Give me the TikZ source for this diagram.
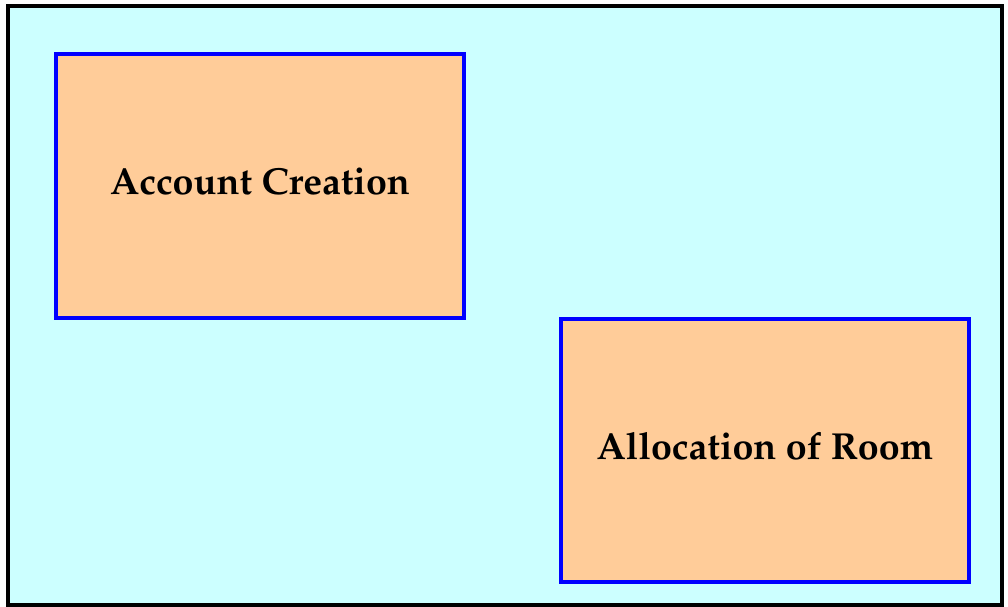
\documentclass[tikz,border=0pt]{standalone}
\usepackage[T1]{fontenc}
\usepackage{mathpazo}
\usepackage{xcolor}
\usetikzlibrary{positioning}

\definecolor{panelcyan}{RGB}{204,255,255}
\definecolor{boxorange}{RGB}{255,204,153}
\definecolor{boxblue}{RGB}{0,0,255}

\tikzset{
    modulebox/.style={draw=boxblue, line width=1.1pt, fill=boxorange,
        minimum width=4.08cm, minimum height=2.64cm, inner sep=0pt,
        text depth=0.1cm,
        font=\fontsize{10.7}{13}\selectfont\bfseries}
}

\begin{document}
\begin{tikzpicture}[x=0.01cm, y=-0.01cm]
    \useasboundingbox (0,0) rectangle (1008,607);
    % Outer panel
    \draw[line width=1.2pt, fill=panelcyan] (8,6) rectangle (1002,605);

    % Modules
    \node[modulebox] (account) at (260,186) {Account Creation};
    \node[modulebox, minimum height=2.63cm] (allocation) at (765,450.5) {Allocation of Room};
\end{tikzpicture}
\end{document}
